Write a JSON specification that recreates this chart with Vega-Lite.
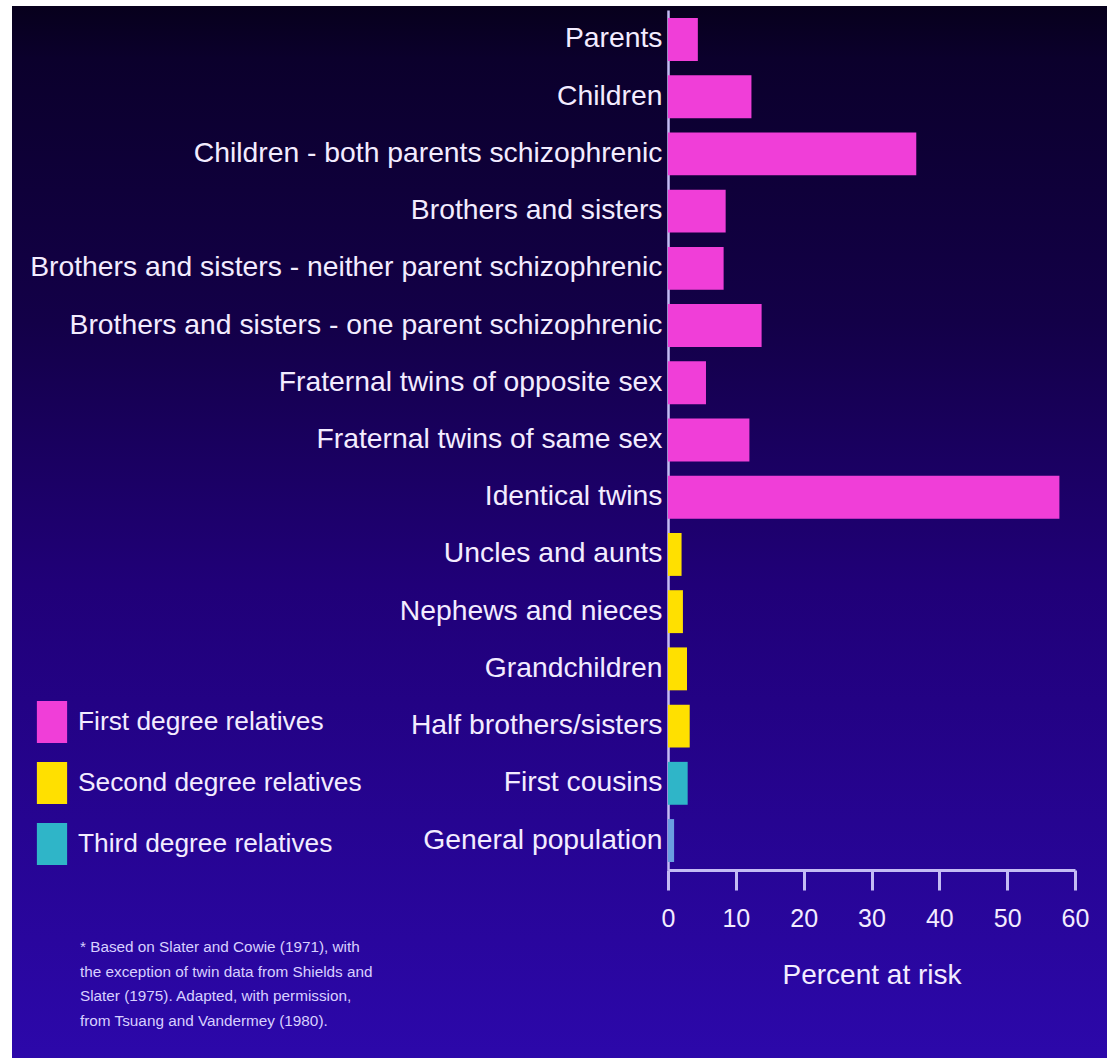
{
  "$schema": "https://vega.github.io/schema/vega-lite/v6.json",
  "width": 1095,
  "height": 1052,
  "autosize": {"type": "none"},
  "padding": {"left": 12, "top": 6, "right": 0, "bottom": 0},
  "background": "#ffffff",
  "title": {
    "text": [
      "* Based on Slater and Cowie (1971), with",
      "the exception of twin data from Shields and",
      "Slater (1975). Adapted, with permission,",
      "from Tsuang and Vandermey (1980)."
    ],
    "orient": "bottom",
    "anchor": "start",
    "frame": "group",
    "offset": -118,
    "dx": 68,
    "font": "Liberation Sans, Arial, sans-serif",
    "fontSize": 15.3,
    "fontWeight": "normal",
    "lineHeight": 24.5,
    "color": "#d8d0ff"
  },
  "data": {
    "values": [
      {"relation": "Parents", "percent": 4.4, "degree": "First degree relatives"},
      {"relation": "Children", "percent": 12.3, "degree": "First degree relatives"},
      {"relation": "Children - both parents schizophrenic", "percent": 36.6, "degree": "First degree relatives"},
      {"relation": "Brothers and sisters", "percent": 8.5, "degree": "First degree relatives"},
      {"relation": "Brothers and sisters - neither parent schizophrenic", "percent": 8.2, "degree": "First degree relatives"},
      {"relation": "Brothers and sisters - one parent schizophrenic", "percent": 13.8, "degree": "First degree relatives"},
      {"relation": "Fraternal twins of opposite sex", "percent": 5.6, "degree": "First degree relatives"},
      {"relation": "Fraternal twins of same sex", "percent": 12.0, "degree": "First degree relatives"},
      {"relation": "Identical twins", "percent": 57.7, "degree": "First degree relatives"},
      {"relation": "Uncles and aunts", "percent": 2.0, "degree": "Second degree relatives"},
      {"relation": "Nephews and nieces", "percent": 2.2, "degree": "Second degree relatives"},
      {"relation": "Grandchildren", "percent": 2.8, "degree": "Second degree relatives"},
      {"relation": "Half brothers/sisters", "percent": 3.2, "degree": "Second degree relatives"},
      {"relation": "First cousins", "percent": 2.9, "degree": "Third degree relatives"},
      {"relation": "General population", "percent": 0.9, "degree": "General population"}
    ]
  },
  "mark": {"type": "bar"},
  "encoding": {
    "y": {
      "field": "relation",
      "type": "nominal",
      "sort": null,
      "scale": {"range": [4, 864], "paddingInner": 0.25, "paddingOuter": 0.14},
      "axis": {
        "title": null,
        "offset": -656,
        "ticks": false,
        "domainColor": "#c4bcf4",
        "domainWidth": 2.5,
        "labelFont": "Liberation Sans, Arial, sans-serif",
        "labelFontSize": 28.3,
        "labelColor": "#f3ecff",
        "labelPadding": 6,
        "labelLimit": 900
      }
    },
    "x": {
      "field": "percent",
      "type": "quantitative",
      "scale": {"domain": [0, 60], "range": [656, 1063], "nice": false, "zero": true},
      "axis": {
        "title": "Percent at risk",
        "offset": -188,
        "values": [0, 10, 20, 30, 40, 50, 60],
        "grid": false,
        "labelFlush": false,
        "labelOverlap": false,
        "domainColor": "#c4bcf4",
        "domainWidth": 3,
        "tickColor": "#c4bcf4",
        "tickWidth": 3,
        "tickSize": 20,
        "labelFont": "Liberation Sans, Arial, sans-serif",
        "labelFontSize": 25,
        "labelColor": "#f3ecff",
        "labelPadding": 16,
        "titleFont": "Liberation Sans, Arial, sans-serif",
        "titleFontSize": 28,
        "titleFontWeight": "normal",
        "titleColor": "#f3ecff",
        "titlePadding": 30
      }
    },
    "color": {
      "field": "degree",
      "type": "nominal",
      "scale": {
        "domain": ["First degree relatives", "Second degree relatives", "Third degree relatives", "General population"],
        "range": ["#f03ed8", "#ffe000", "#2fb5c8", "#6a9ee0"]
      },
      "legend": {
        "orient": "none",
        "legendX": 19,
        "legendY": 695,
        "title": null,
        "values": ["First degree relatives", "Second degree relatives", "Third degree relatives"],
        "symbolType": "M-0.72,-1H0.72V1H-0.72Z",
        "symbolSize": 1764,
        "symbolStrokeWidth": 0,
        "symbolOpacity": 1,
        "labelFont": "Liberation Sans, Arial, sans-serif",
        "labelFontSize": 26.3,
        "labelColor": "#f3ecff",
        "labelOffset": 5,
        "labelLimit": 600,
        "rowPadding": 19,
        "padding": 0
      }
    }
  },
  "config": {
    "view": {
      "stroke": null,
      "fill": {
        "gradient": "linear",
        "x1": 0, "y1": 0, "x2": 0, "y2": 1,
        "stops": [
          {"offset": 0, "color": "#07001c"},
          {"offset": 0.05, "color": "#0b002c"},
          {"offset": 0.3, "color": "#130048"},
          {"offset": 0.55, "color": "#200078"},
          {"offset": 1, "color": "#2c08aa"}
        ]
      }
    }
  }
}
